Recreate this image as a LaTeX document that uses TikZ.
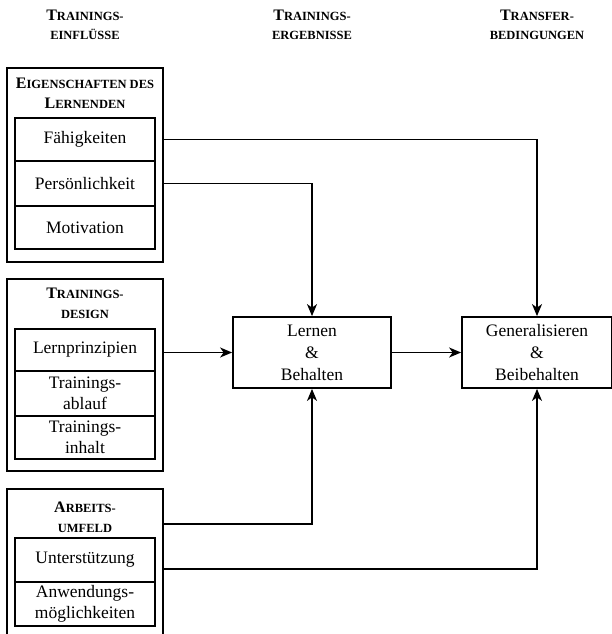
\documentclass[tikz,border=0pt]{standalone}
\usepackage{fontspec}
\setmainfont{Liberation Serif}
\usetikzlibrary{arrows.meta}
% hand-made small capitals: large initial, smaller capitals after it
\newcommand\initcap[1]{{\fontsize{16}{20}\selectfont #1}}
\begin{document}
\begin{tikzpicture}[x=1pt,y=-1pt,
  outerbox/.style={draw,line width=1.8pt,minimum width=156,inner sep=0pt},
  rowbox/.style={draw,line width=1.8pt,minimum width=140,inner sep=0pt,
    align=center,font=\fontsize{17.5}{21}\selectfont},
  mainbox/.style={draw,line width=1.8pt,inner sep=0pt,align=center,
    font=\fontsize{17.5}{22}\selectfont},
  header/.style={align=center,font=\bfseries\fontsize{12.5}{20}\selectfont},
  coltitle/.style={align=center,font=\bfseries\fontsize{12.5}{19}\selectfont},
  conn/.style={line width=1.5pt,-{Stealth[length=12pt,width=10pt,inset=3.5pt]}}]
\clip (0,0) rectangle (612,634);
\fill[white] (0,0) rectangle (612,634);

% column titles
\node[coltitle] (t1) at (85,25) {\initcap{T}RAININGS-\\EINFLÜSSE};
\node[coltitle] (t2) at (312,25) {\initcap{T}RAININGS-\\ERGEBNISSE};
\node[coltitle] (t3) at (537,25) {\initcap{T}RANSFER-\\BEDINGUNGEN};

% learner characteristics
\node[outerbox,minimum height=194] (o1) at (85,165) {};
\node[header] (h1) at (85,93) {\initcap{E}IGENSCHAFTEN DES\\\initcap{L}ERNENDEN};
\node[rowbox,minimum height=43] (fae) at (85,139.5) {Fähigkeiten};
\node[rowbox,minimum height=45] (pers) at (85,183.5) {Persönlichkeit};
\node[rowbox,minimum height=43] (mot) at (85,227.5) {Motivation};

% training design
\node[outerbox,minimum height=192] (o2) at (85,375) {};
\node[header] (h2) at (85,303) {\initcap{T}RAININGS-\\DESIGN};
\node[rowbox,minimum height=42] (lp) at (85,350) {Lernprinzipien};
\node[rowbox,minimum height=45] (abl) at (85,393.5) {Trainings-\\ablauf};
\node[rowbox,minimum height=43] (inh) at (85,437.5) {Trainings-\\inhalt};

% work environment
\node[outerbox,minimum height=161] (o3) at (85,569.5) {};
\node[header] (h3) at (85,517) {\initcap{A}RBEITS-\\UMFELD};
\node[rowbox,minimum height=44] (us) at (85,560) {Unterstützung};
\node[rowbox,minimum height=44] (anw) at (85,604) {Anwendungs-\\möglichkeiten};

% outcomes and transfer
\node[mainbox,minimum width=158,minimum height=71] (lern) at (312,352.5) {Lernen\\\&\\Behalten};
\node[mainbox,minimum width=150,minimum height=71] (gen) at (537,352.5) {Generalisieren\\\&\\Beibehalten};

% connectors
\coordinate (au) at (163,524);
\coordinate (ut) at (163,569);
\draw[conn] (o1.east |- fae) -| (gen.north);
\draw[conn] (o1.east |- pers) -| (lern.north);
\draw[conn] (o2.east |- lern) -- (lern.west);
\draw[conn] (lern.east) -- (gen.west);
\draw[conn] (au) -| (lern.south);
\draw[conn] (ut) -| (gen.south);
\end{tikzpicture}
\end{document}
